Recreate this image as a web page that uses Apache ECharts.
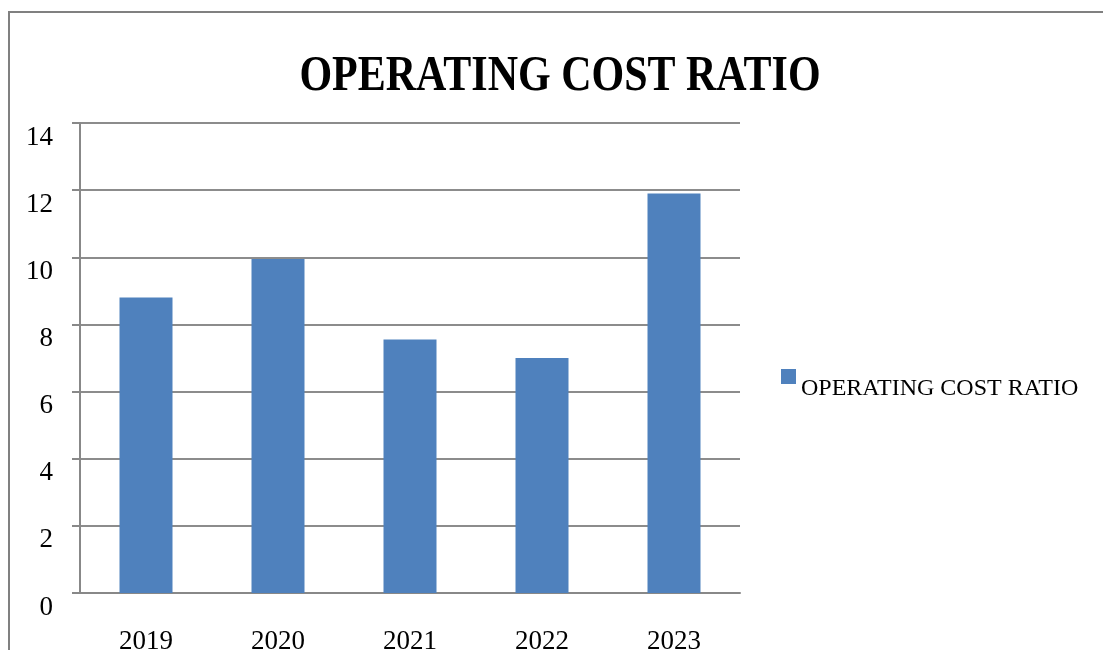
<!DOCTYPE html>
<html>

<head>
	<meta charset="utf-8">
	<title>operating cost ratio</title>
	<script src="https://cdn.jsdelivr.net/npm/echarts@6/dist/echarts.min.js"></script>
	<style>
		body { margin: 0; background: #fff; }
	</style>
</head>

<body>
	<div id="chart" style="width:1103px;height:650px;"></div>
	<script>
		var years = ['2019', '2020', '2021', '2022', '2023'];
		var ratio = [8.8, 9.95, 7.55, 7.0, 11.9];
		var seriesName = 'OPERATING COST RATIO';

		var myChart = echarts.init(document.getElementById('chart'));
		var serif = '"Liberation Serif", "DejaVu Serif", serif';

		var option = {
			animation: false,
			grid: {
				left: 80,
				right: 363,
				top: 123,
				bottom: 57,
				containLabel: false,
				outerBoundsMode: 'none'
			},
			graphic: [
				{
					type: 'rect',
					shape: { x: 9, y: 12, width: 1200, height: 700 },
					style: { fill: 'none', stroke: '#808080', lineWidth: 2 }
				},
				{
					type: 'text',
					x: 560,
					y: 77,
					scaleX: 0.84,
					style: {
						text: 'OPERATING COST RATIO',
						font: 'bold 50px ' + serif,
						fill: '#000',
						textAlign: 'center',
						textVerticalAlign: 'middle'
					}
				}
			],
			legend: {
				left: 781,
				top: 369,
				padding: 0,
				// square sits at the top of a taller box so the text hangs lower
				icon: 'path://M0,0L15,0L15,15L0,15Z M0,40L0.01,40',
				itemWidth: 15,
				itemHeight: 40,
				textStyle: {
					fontFamily: serif,
					fontSize: 24,
					color: '#000'
				},
				data: [seriesName]
			},
			xAxis: {
				type: 'category',
				data: years,
				boundaryGap: true,
				axisLine: { lineStyle: { color: '#888', width: 2 } },
				axisTick: { length: 9, lineStyle: { color: '#888', width: 2 } },
				axisLabel: {
					fontFamily: serif,
					fontSize: 27,
					color: '#000',
					margin: 35
				}
			},
			yAxis: {
				type: 'value',
				min: 0,
				max: 14,
				interval: 2,
				axisLine: { show: true, lineStyle: { color: '#888', width: 2 } },
				axisTick: { show: true, length: 8, lineStyle: { color: '#888', width: 2 } },
				axisLabel: {
					fontFamily: serif,
					fontSize: 27,
					color: '#000',
					margin: 27,
					verticalAlign: 'top',
					lineHeight: 29
				},
				splitLine: { lineStyle: { color: '#8c8c8c', width: 2 } }
			},
			series: [{
				name: seriesName,
				type: 'bar',
				data: ratio,
				barWidth: 53,
				itemStyle: { color: '#4f81bd' }
			}]
		};
		myChart.setOption(option);
	</script>
</body>

</html>
